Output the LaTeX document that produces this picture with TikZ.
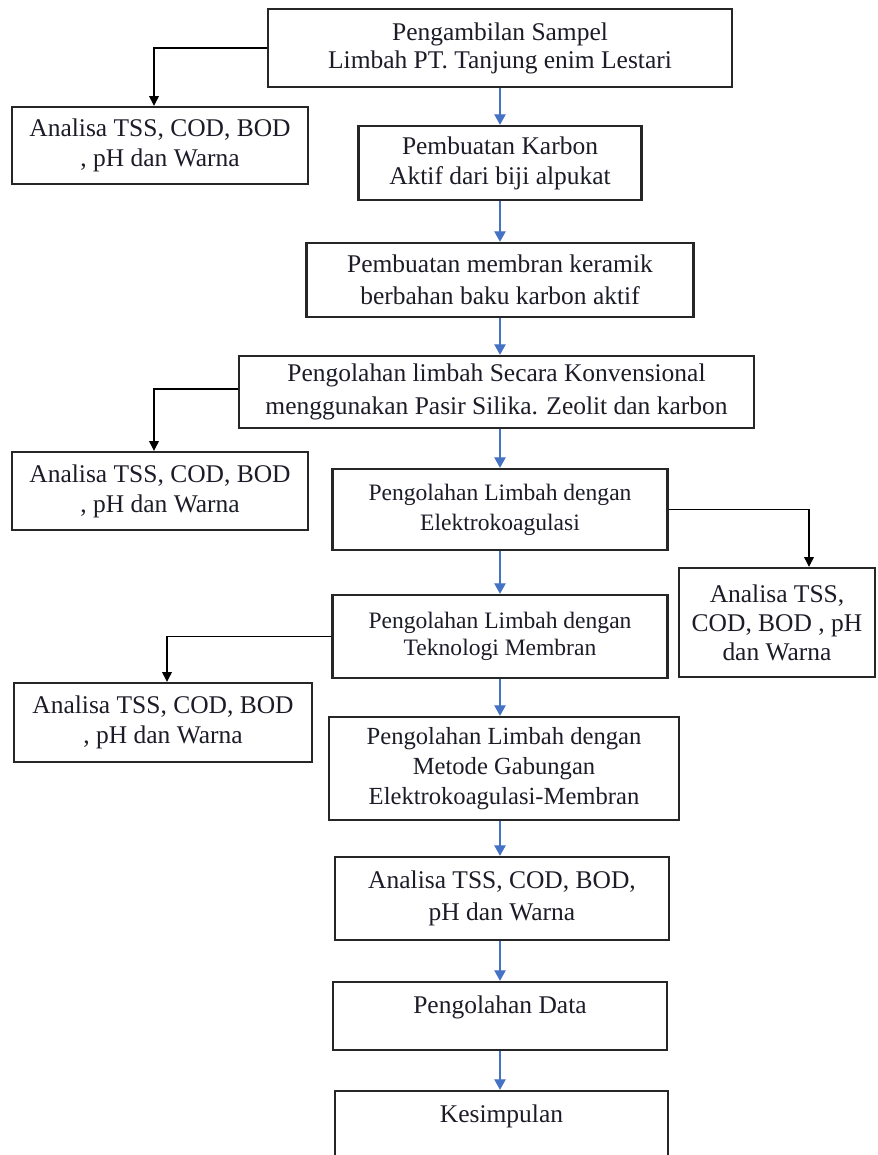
\documentclass[tikz,border=0pt]{standalone}
\usepackage{fontspec}
\setmainfont{Liberation Serif}
\usepackage{tikz}
\usetikzlibrary{arrows.meta}
\definecolor{flowblue}{RGB}{68,114,196}
\definecolor{ink}{RGB}{28,28,40}

\begin{document}
\begin{tikzpicture}[
	box/.style={draw=black!85, line width=1.35pt, align=center, inner sep=0pt, text=ink, font=\fontsize{14.5}{17}\selectfont},
	flow/.style={draw=flowblue, line width=0.8pt, -{Triangle[width=6.5pt,length=6pt]}},
	side/.style={draw=black, line width=0.7pt, -{Triangle[width=5.5pt,length=5.5pt]}}
	]
			%%%%% START %%%%%
			
			\useasboundingbox (0, 0) rectangle (17.54, 23.1);
			
			\node[box, minimum width=9.28cm, minimum height=1.56cm, font=\fontsize{14.5}{16}\selectfont] (s1) at (10, 22.14) {Pengambilan Sampel\\Limbah PT. Tanjung enim Lestari};
			\node[box, minimum width=5.92cm, minimum height=1.54cm] (a1) at (3.2, 20.19) {Analisa TSS, COD, BOD\\, pH dan Warna};
			
			\node[box, minimum width=5.66cm, minimum height=1.48cm] (s2) at (10, 19.84) {Pembuatan Karbon\\Aktif dari biji alpukat};
			\node[box, minimum width=7.74cm, minimum height=1.48cm, font=\fontsize{14.5}{18.5}\selectfont] (s3) at (10, 17.5) {Pembuatan membran keramik\\berbahan baku karbon aktif};
			\node[box, minimum width=10.3cm, minimum height=1.44cm, font=\fontsize{14.5}{18.5}\selectfont] (s4) at (9.93, 15.26) {Pengolahan limbah Secara Konvensional\\menggunakan Pasir Silika. Zeolit dan karbon};
			\node[box, minimum width=5.92cm, minimum height=1.56cm] (a2) at (3.2, 13.28) {Analisa TSS, COD, BOD\\, pH dan Warna};
			
			\node[box, minimum width=6.7cm, minimum height=1.62cm, font=\fontsize{13.4}{17}\selectfont] (s5) at (10, 12.91) {Pengolahan Limbah dengan\\Elektrokoagulasi};
			\node[box, minimum width=3.92cm, minimum height=2.18cm, font=\fontsize{14.5}{16.5}\selectfont] (a3) at (15.54, 10.65) {Analisa TSS,\\COD, BOD , pH\\dan Warna};
			
			\node[box, minimum width=6.7cm, minimum height=1.66cm, font=\fontsize{13.4}{15.5}\selectfont] (s6) at (10, 10.37) {Pengolahan Limbah dengan\\Teknologi Membran};
			\node[box, minimum width=5.96cm, minimum height=1.58cm] (a4) at (3.26, 8.65) {Analisa TSS, COD, BOD\\, pH dan Warna};
			
			\node[box, minimum width=7.0cm, minimum height=2.06cm, font=\fontsize{14}{17}\selectfont] (s7) at (10.08, 7.73) {Pengolahan Limbah dengan\\Metode Gabungan\\Elektrokoagulasi-Membran};
			\node[box, minimum width=6.68cm, minimum height=1.66cm, font=\fontsize{14.5}{18.2}\selectfont] (s8) at (10.04, 5.13) {Analisa TSS, COD, BOD,\\pH dan Warna};
			\node[box, minimum width=6.68cm, minimum height=1.36cm] (s9) at (10, 2.78) {Pengolahan Data\\[-4pt]\mbox{}};
			\node[box, minimum width=6.66cm, minimum height=1.36cm] (s10) at (10.03, 0.6) {Kesimpulan\\[-4pt]\mbox{}};
			
			% main line
			\draw[flow] (s1) -- (s1 |- s2.north);
			\draw[flow] (s2) -- (s2 |- s3.north);
			\draw[flow] (s3) -- (s3 |- s4.north);
			\draw[flow] (s4.south -| s3) -- (s3 |- s5.north);
			\draw[flow] (s5) -- (s5 |- s6.north);
			\draw[flow] (s6) -- (s6 |- s7.north);
			\draw[flow] (s7.south -| s6) -- (s6 |- s8.north);
			\draw[flow] (s8.south -| s9) -- (s9.north);
			\draw[flow] (s9.south -| s9) -- (s9 |- s10.north);
			
			% side branches
			\draw[side] (s1.west) -| ([xshift=-0.12cm]a1.north);
			\draw[side] ([yshift=0.06cm]s4.west) -| ([xshift=-0.12cm]a2.north);
			\draw[side] (s5.east) -| ([xshift=0.64cm]a3.north);
			\draw[side] (s6.west) -| ([xshift=0.08cm]a4.north);
			
			%%%%% END %%%%%
\end{tikzpicture}
\end{document}
